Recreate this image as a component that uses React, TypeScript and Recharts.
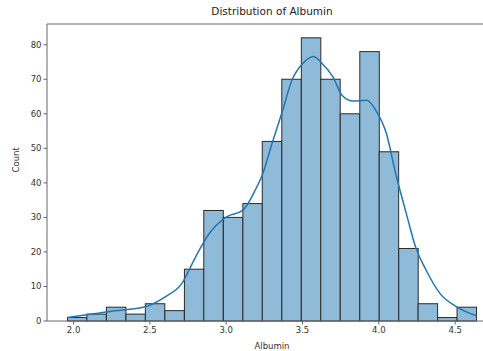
import { Bar, ComposedChart, Line, ReferenceLine, XAxis, YAxis } from "recharts";

// histogram bins (centres) and counts
const binCenters = [
  2.024, 2.151, 2.279, 2.407, 2.534, 2.662, 2.79, 2.917, 3.045, 3.173, 3.3,
  3.428, 3.556, 3.683, 3.811, 3.939, 4.066, 4.194, 4.321, 4.449, 4.576,
];
const counts = [1, 2, 4, 2, 5, 3, 15, 32, 30, 34, 52, 70, 82, 70, 60, 78, 49, 21, 5, 1, 4];
const binWidth = 0.1276;

// kde curve
const kdeX = [
  1.96, 2.1, 2.23, 2.37, 2.47, 2.6, 2.71, 2.8, 2.89, 3.0, 3.11, 3.19, 3.24, 3.3,
  3.37, 3.43, 3.5, 3.57, 3.63, 3.7, 3.76, 3.83, 3.92, 3.98, 4.05, 4.11, 4.18,
  4.24, 4.31, 4.4, 4.51, 4.64,
];
const kdeY = [
  1.0, 1.9, 2.7, 3.4, 4.1, 7.0, 10.9, 18.6, 25.4, 30.1, 32.1, 37.9, 42.7, 51.4,
  61, 69.7, 74.5, 76.6, 74.5, 70.6, 65.3, 63.7, 63.9, 61, 54.2, 42.7, 31.1, 21.5,
  14.7, 8.0, 4.1, 1.5,
];

const xTicks = [2.0, 2.5, 3.0, 3.5, 4.0, 4.5];
const yTicks = [0, 10, 20, 30, 40, 50, 60, 70, 80];
const xDomain: [number, number] = [1.826, 4.774];

const bins = binCenters.map((x, i) => ({ x, count: counts[i] }));
const kde = kdeX.map((x, i) => ({ x, density: kdeY[i] }));

const font = "'DejaVu Sans', sans-serif";
const tickStyle = { fill: "#333", fontSize: 8.5, fontFamily: font };

const CHART_W = 500;
const Y_AXIS_W = 47;
const RIGHT = 3;
const pxPerUnit = (CHART_W - Y_AXIS_W - RIGHT) / (xDomain[1] - xDomain[0]);

function HistBar(props: any) {
  const { x, y, width, height } = props;
  if (!height || height <= 0) return null;
  const cx = x + width / 2;
  const w = binWidth * pxPerUnit;
  return (
    <rect
      x={cx - w / 2}
      y={y}
      width={w}
      height={height}
      fill="#8fbbd9"
      stroke="#2a2a2a"
      strokeWidth={1}
    />
  );
}

export default function App() {
  return (
    <div
      style={{
        position: "absolute",
        left: 0,
        top: 0,
        width: 483,
        height: 351,
        overflow: "hidden",
        background: "#fff",
        fontFamily: font,
      }}
    >
      <div
        style={{
          position: "absolute",
          top: 5,
          left: Y_AXIS_W,
          width: CHART_W - Y_AXIS_W - RIGHT,
          textAlign: "center",
          fontSize: 10.5,
          color: "#222",
        }}
      >
        Distribution of Albumin
      </div>
      <ComposedChart
        width={CHART_W}
        height={351}
        data={bins}
        margin={{ top: 24, right: RIGHT, left: 0, bottom: 0 }}
      >
        <XAxis
          dataKey="x"
          type="number"
          domain={xDomain}
          ticks={xTicks}
          tickFormatter={(v: number) => v.toFixed(1)}
          allowDataOverflow
          height={30}
          tick={tickStyle}
          tickSize={3.5}
          tickMargin={2}
          stroke="#666"
          label={{ value: "Albumin", position: "insideBottom", offset: 2, fill: "#333", fontSize: 8.5, fontFamily: font }}
        />
        <YAxis
          type="number"
          domain={[0, 86]}
          ticks={yTicks}
          width={Y_AXIS_W}
          tick={tickStyle}
          tickSize={3.5}
          tickMargin={2}
          stroke="#666"
          label={{ value: "Count", angle: -90, position: "insideLeft", offset: 16, fill: "#333", fontSize: 8.5, fontFamily: font }}
        />
        <ReferenceLine y={86} stroke="#666" ifOverflow="visible" />
        <Bar dataKey="count" shape={HistBar} isAnimationActive={false} />
        <Line
          data={kde}
          dataKey="density"
          type="monotone"
          stroke="#1f77b4"
          strokeWidth={1.5}
          dot={false}
          activeDot={false}
          isAnimationActive={false}
        />
      </ComposedChart>
    </div>
  );
}
